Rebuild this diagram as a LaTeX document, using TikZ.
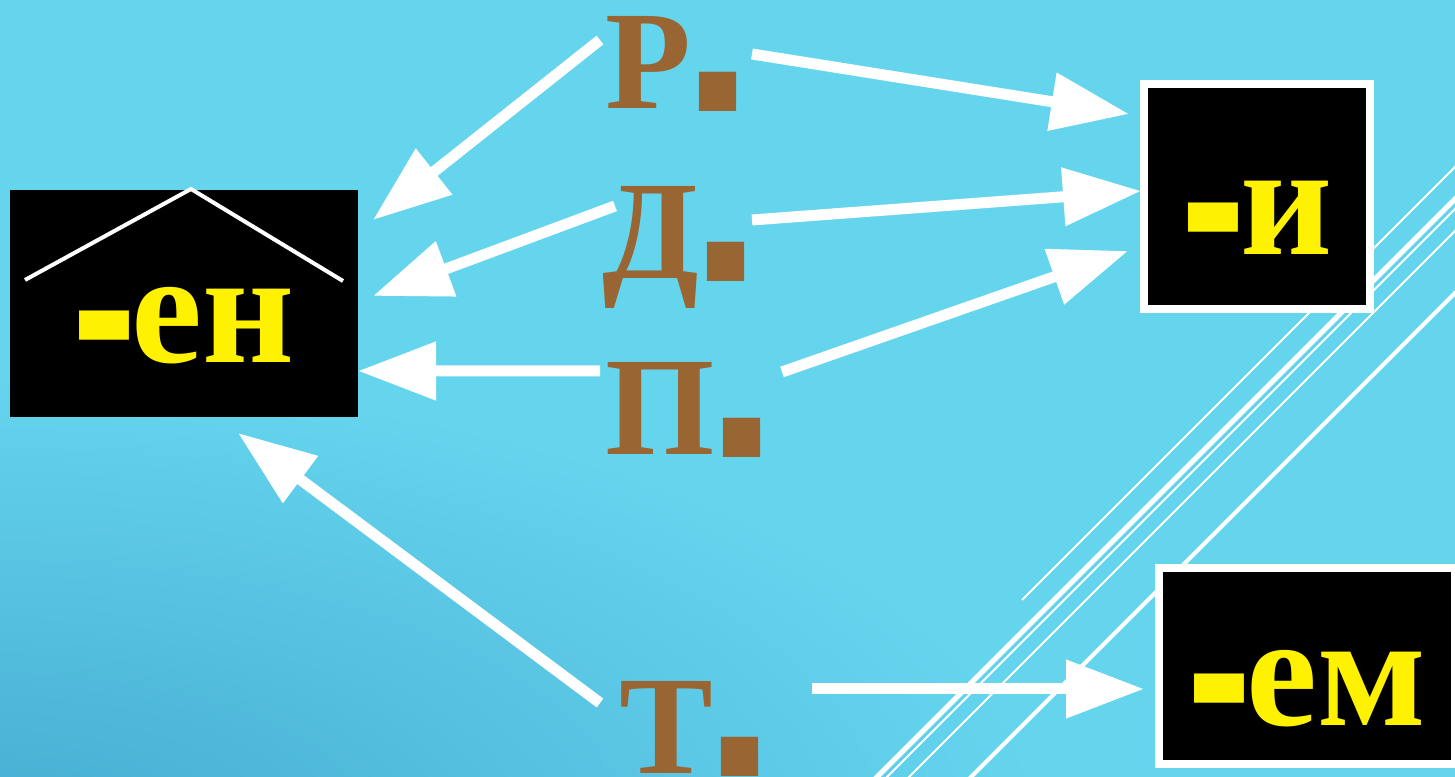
\documentclass[tikz,border=0pt]{standalone}
\usepackage{graphicx}
\usepackage{fontspec}
\setmainfont{Liberation Serif}
\newfontfamily\dotfont{Liberation Sans}
\usepackage{tikz}
\usetikzlibrary{positioning,calc,arrows.meta}
\definecolor{skyblue}{RGB}{101,213,238}
\definecolor{skydark}{RGB}{70,172,210}
\definecolor{casebrown}{RGB}{153,102,51}
\newcommand{\hy}{\raisebox{-0.275em}{\scalebox{1.2}[2.15]{-}}\kern-0.03em}
\newcommand{\dt}{\kern-0.1cm\raisebox{-0.03cm}{\dotfont\fontsize{75}{75}\selectfont .}}

\begin{document}
\begin{tikzpicture}[
    ending/.style={fill=black, text=yellow, font=\fontsize{45.5}{46}\selectfont\bfseries, inner sep=0pt, outer sep=0pt, text depth=0.54cm},
    case/.style={text=casebrown, font=\fontsize{40}{40}\selectfont\bfseries, inner sep=0pt, anchor=base west},
    arr/.style={white, line width=0.11cm, -{Triangle[length=0.78cm, width=0.56cm]}}
]
    \useasboundingbox (0,0) rectangle (14.55,7.77);
    \clip (0,0) rectangle (14.55,7.77);

    % background
    \fill[skyblue] (0,0) rectangle (14.55,7.77);
    \shade[inner color=skydark, outer color=skyblue] (0,-0.6) ellipse (10.5 and 4.6);

    % stripes
    \draw[white, line width=0.02cm] (10.22,1.77) -- (15,6.55);
    \foreach \x/\w in {8.77/0.05, 8.87/0.02, 9.09/0.02, 9.71/0.04}
        \draw[white, line width=\w cm] (\x-0.1,-0.1) -- ++(6.5,6.5);

    % endings
    \node[ending, minimum width=3.48cm, text height=1.73cm] (en) at (1.84,4.735) {\hy ен};
    \draw[white, line width=0.04cm] ([shift={(0.15,-0.90)}]en.north west) -- ([shift={(0.07,0.01)}]en.north) -- ([shift={(-0.15,-0.91)}]en.north east); % roof
    \node[ending, draw=white, line width=0.08cm, minimum width=2.26cm, text height=1.71cm] (ii) at (12.57,5.805) {\hy и};
    \node[ending, draw=white, line width=0.08cm, minimum width=2.96cm, text height=1.58cm, text depth=0.38cm] (em) at (13.07,1.11) {\hy ем};

    % cases
    \node[case] (rod) at (6.05,6.68) {Р\dt};
    \node[case] (dat) at (6.02,4.98) {Д\dt};
    \node[case] (pred) at (6.05,3.22) {П\dt};
    \node[case] (tvor) at (6.19,0.03) {Т\dt};

    % arrows
    \draw[arr] ([shift={(-0.05,0.69)}]rod.base west) -- ([shift={(0.15,-0.30)}]en.north east);
    \draw[arr] ([shift={(1.47,0.55)}]rod.base west) -- ([shift={(-0.15,-0.30)}]ii.north west);
    \draw[arr] ([shift={(0.13,0.73)}]dat.base west) -- ([shift={(0.15,0.075)}]en.east);
    \draw[arr] ([shift={(1.50,0.59)}]dat.base west) -- ([shift={(-0.03,0.055)}]ii.west);
    \draw[arr] ([shift={(-0.05,0.84)}]pred.base west) -- ([shift={(0,-0.675)}]en.east);
    \draw[arr] ([shift={(1.77,0.83)}]pred.base west) -- ([shift={(-0.16,0.58)}]ii.south west);
    \draw[arr] ([shift={(-0.19,0.71)}]tvor.base west) -- ([shift={(0.54,-0.16)}]en.south);
    \draw[arr] ([shift={(1.93,0.85)}]tvor.base west) -- ([shift={(-0.15,-0.23)}]em.west);
\end{tikzpicture}
\end{document}
